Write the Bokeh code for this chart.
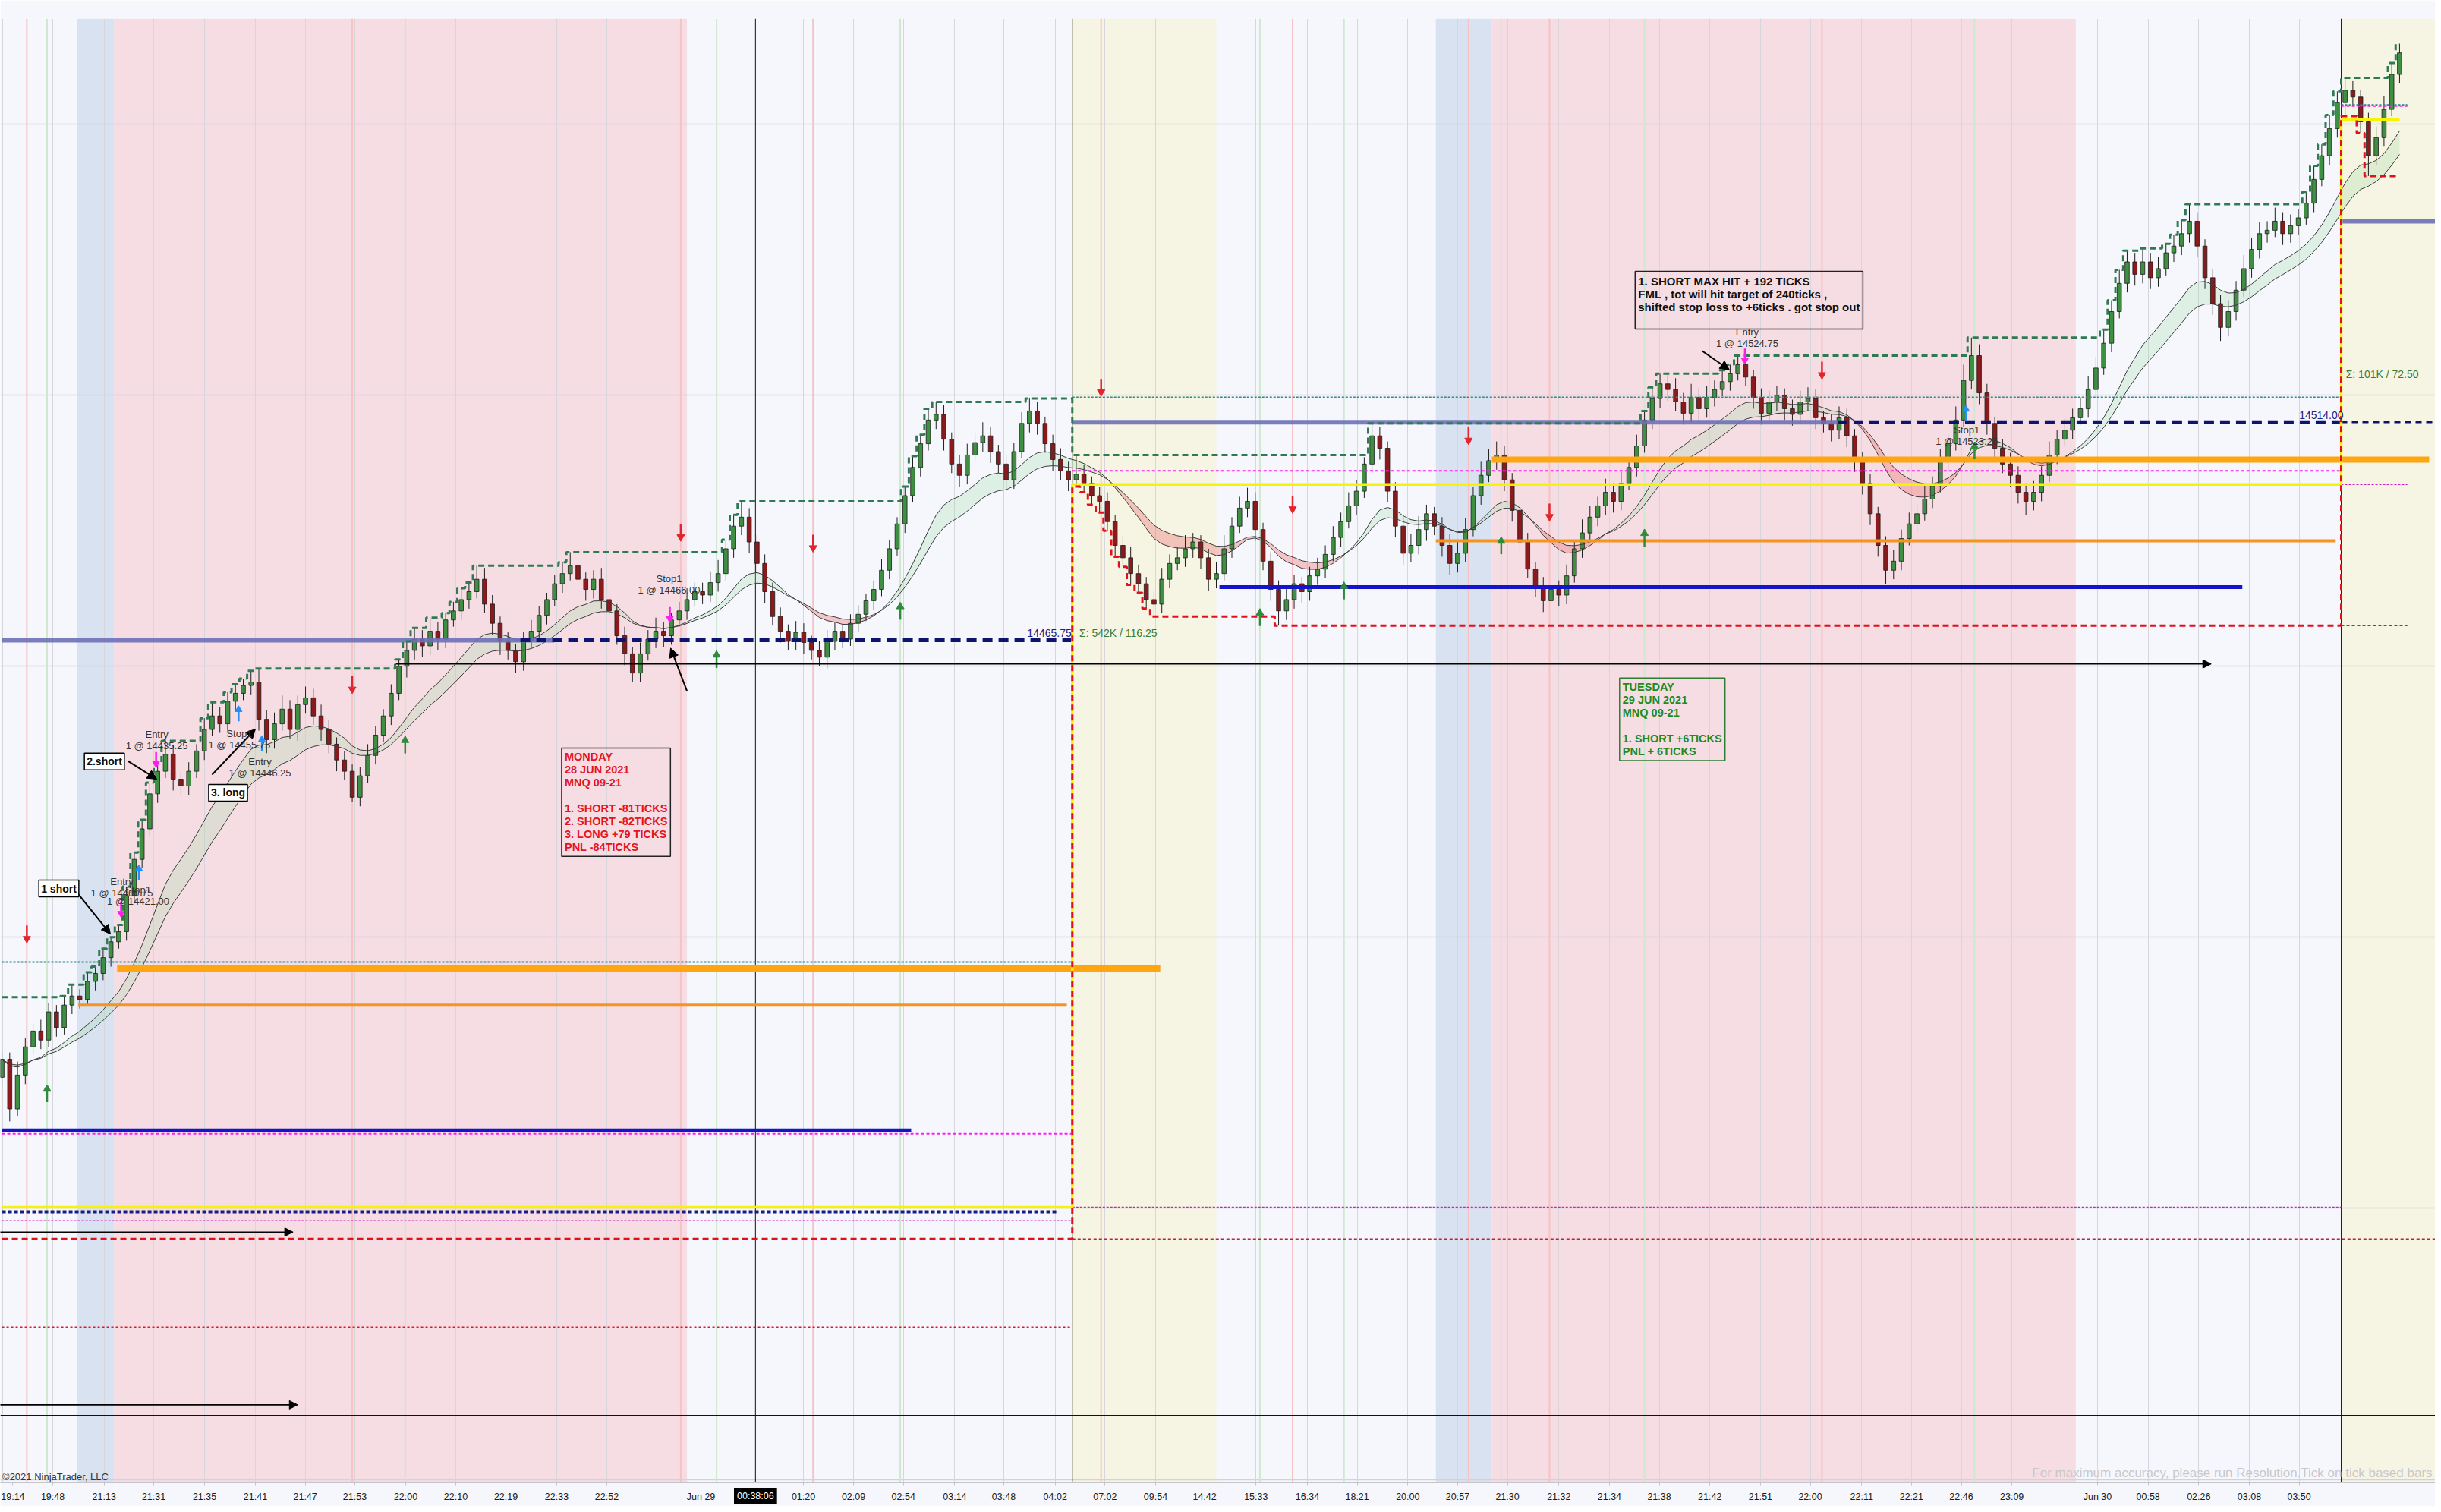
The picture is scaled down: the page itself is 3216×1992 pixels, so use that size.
import numpy as np
import pandas as pd
from bokeh.plotting import figure
from bokeh.models import Range1d, FixedTicker, BoxAnnotation, Span, Label, Arrow, NormalHead
from bokeh.embed import file_html
from bokeh.resources import INLINE

FONT = "Liberation Sans"

# ---------------- price bars (MNQ 09-21), one bar per ~3 chart bars ----------------
first_open = 14369.0
closes = [
 14373.0, 14362.0, 14369.5, 14375.75, 14379.25, 14377.25, 14383.5, 14380.0, 14385.0, 14387.0,
 14386.25, 14390.25, 14392.0, 14395.5, 14399.0, 14401.25, 14409.25, 14417.25, 14424.0, 14431.75,
 14436.75, 14440.5, 14435.0, 14433.5, 14436.75, 14441.25, 14446.0, 14449.0, 14447.25, 14452.25,
 14454.0, 14455.75, 14456.5, 14448.25, 14443.75, 14447.25, 14450.5, 14446.0, 14451.5, 14453.0,
 14449.0, 14446.0, 14442.75, 14439.25, 14436.75, 14431.0, 14435.75, 14440.25, 14444.75, 14449.0,
 14454.0, 14460.0, 14463.5, 14466.0, 14464.5, 14467.75, 14466.0, 14470.25, 14472.25, 14474.75,
 14476.5, 14479.25, 14473.75, 14469.5, 14465.5, 14463.5, 14461.0, 14465.5, 14467.75, 14471.25,
 14474.75, 14478.25, 14480.5, 14482.25, 14479.25, 14477.0, 14479.25, 14474.75, 14472.25, 14466.75,
 14462.75, 14458.5, 14462.75, 14466.0, 14467.75, 14466.75, 14470.25, 14472.25, 14474.75, 14476.5,
 14475.75, 14478.5, 14480.5, 14486.0, 14491.0, 14493.0, 14487.5, 14482.75, 14476.5, 14471.0,
 14467.75, 14465.5, 14467.5, 14465.25, 14463.5, 14462.0, 14465.5, 14467.75, 14466.0, 14469.5,
 14471.5, 14474.5, 14477.0, 14481.25, 14486.0, 14491.5, 14497.75, 14504.0, 14509.25, 14514.5,
 14515.75, 14510.25, 14504.75, 14502.25, 14506.75, 14509.5, 14511.0, 14507.5, 14504.75, 14501.25,
 14507.5, 14513.75, 14516.5, 14513.75, 14509.25, 14505.75, 14503.25, 14501.25, 14502.5, 14500.5,
 14497.75, 14496.5, 14492.0, 14486.75, 14484.0, 14480.5, 14478.25, 14474.75, 14473.75, 14479.25,
 14482.75, 14484.0, 14486.0, 14487.5, 14484.0, 14479.25, 14480.5, 14486.0, 14491.0, 14495.0,
 14496.5, 14490.25, 14483.25, 14477.0, 14472.25, 14474.75, 14478.25, 14476.5, 14480.0, 14481.5,
 14484.75, 14488.5, 14492.0, 14495.5, 14498.75, 14504.75, 14511.0, 14508.25, 14498.75, 14491.0,
 14485.0, 14486.75, 14490.25, 14493.75, 14491.0, 14486.75, 14482.75, 14485.0, 14490.25, 14497.75,
 14502.25, 14505.5, 14506.75, 14501.25, 14494.5, 14487.5, 14481.5, 14477.75, 14474.5, 14477.0,
 14475.75, 14480.0, 14486.0, 14489.5, 14493.0, 14495.5, 14498.5, 14496.5, 14500.5, 14504.0,
 14508.75, 14514.5, 14519.25, 14522.5, 14521.25, 14518.5, 14516.0, 14519.5, 14517.0, 14519.5,
 14521.25, 14523.0, 14524.75, 14526.75, 14524.0, 14519.5, 14516.0, 14518.5, 14520.0, 14517.0,
 14515.75, 14518.5, 14519.25, 14515.0, 14513.75, 14512.25, 14515.0, 14511.0, 14505.5, 14500.5,
 14493.75, 14486.75, 14481.25, 14483.25, 14488.25, 14491.5, 14493.75, 14497.0, 14500.0, 14505.5,
 14509.25, 14514.5, 14523.25, 14528.75, 14520.5, 14513.75, 14508.25, 14504.75, 14502.25, 14498.5,
 14496.5, 14498.5, 14502.25, 14506.75, 14510.25, 14512.25, 14515.0, 14517.0, 14521.25, 14526.0,
 14531.5, 14538.5, 14544.75, 14549.5, 14546.75, 14549.5, 14546.0, 14548.0, 14551.5, 14553.0,
 14555.75, 14558.5, 14553.0, 14546.0, 14540.25, 14535.0, 14538.5, 14543.25, 14548.0, 14552.25,
 14555.75, 14556.5, 14558.5, 14555.75, 14557.5, 14559.25, 14562.5, 14567.75, 14573.0, 14579.0,
 14584.75, 14587.5, 14586.0, 14580.5, 14573.0, 14577.0, 14583.25, 14591.0, 14595.75,
]
wick_up = [
 2, 1.5, 3, 2, 1.5, 2.5, 2, 1.5, 2, 2.5,
 1.5, 2, 1.5, 2, 1, 1.5, 2, 1.5, 2, 2.5,
 2, 3, 2, 1.5, 2, 1.5, 2.5, 3, 2, 2,
 2, 1.5, 2.5, 3, 2, 2.5, 3, 2, 2, 2.5,
 2, 2.5, 2, 1.5, 2, 1.5, 2, 2.5, 2, 1.5,
 2, 1.5, 2, 2.5, 2, 3, 2, 1.5, 2, 2.5,
 2, 3, 2.5, 2, 1.5, 2, 1.5, 2, 2.5, 2,
 1.5, 2, 2.5, 3, 2, 1.5, 2, 2.5, 2, 1.5,
 2, 1.5, 2.5, 2, 3, 2, 1.5, 2, 2.5, 2,
 2, 2.5, 3, 2, 2.5, 3.5, 2, 1.5, 2, 2,
 2, 1.5, 2.5, 2, 1.5, 2, 2.5, 2, 1.5, 2,
 2, 1.5, 2, 2.5, 2, 1.5, 2, 2.5, 2, 2.5,
 2.75, 2, 1.5, 2, 2.5, 2, 3, 2, 1.5, 2,
 2, 2.5, 2.75, 2, 1.5, 2, 2.5, 2, 4.25, 2,
 1.5, 2, 2, 1.5, 2, 2.5, 2, 1.5, 2, 2.5,
 2, 2.5, 3, 2, 1.5, 2, 2.5, 3, 2, 2.5,
 3, 2, 1.5, 2, 2, 2.5, 2, 1.5, 2, 2.5,
 2, 2.5, 2, 3, 2.5, 1.5, 2.75, 2, 1.5, 2,
 2, 2.5, 3, 2, 1.5, 2, 2.5, 3, 2.5, 2,
 3, 2.5, 3, 2, 1.5, 2, 2, 1.5, 2, 2.5,
 2, 2.5, 2, 3, 2.5, 2, 3, 2, 2.5, 2,
 2.5, 2, 2.5, 2.25, 2, 2.5, 2, 3, 2, 2.5,
 2, 2.5, 2, 2, 2, 1.5, 2, 2.5, 2, 1.5,
 2, 2.5, 2.5, 2, 1.5, 2, 2.5, 2, 1.5, 2,
 2, 1.5, 2, 2.5, 2, 2.5, 2, 3, 2, 2.5,
 2, 3, 3.5, 4, 2.5, 2, 1.5, 2, 2.5, 2,
 2, 2.5, 2, 3, 2, 2.5, 2, 2.5, 3, 2.5,
 3, 2.5, 3, 2.5, 2, 3, 2, 2.5, 2, 2.5,
 3, 3.75, 2, 1.5, 2, 2, 2.5, 2, 3, 2.5,
 2.5, 2, 3, 2, 2.5, 2, 2.5, 3, 2.5, 3,
 2.5, 2.75, 2, 1.5, 2, 2.5, 3, 2.5, 2,
]
wick_dn = [
 2, 2.75, 1.5, 2, 1.5, 2, 1.5, 2, 1.5, 2,
 2, 1.5, 2, 1.5, 2, 1.5, 2, 1.5, 2, 1.5,
 2, 1.5, 2.5, 2, 2, 1.5, 2, 1.5, 2, 1.5,
 2, 1.5, 2, 2.5, 3, 2, 1.5, 2, 2.5, 2,
 2, 2.5, 2, 2.5, 2, 1, 2, 1.5, 2, 1.5,
 2, 1.5, 2.5, 2, 2.5, 2, 2.5, 2, 1.5, 2,
 2, 1.5, 2, 2.5, 3, 2, 2.5, 2, 1.5, 2,
 2, 1.5, 2, 1.5, 2, 2.5, 2, 2, 2.5, 2,
 2.5, 2, 2, 1.5, 2, 2.5, 2, 1.5, 2, 1.5,
 2, 1.5, 2, 1.5, 2, 2, 2.5, 2, 2.5, 2,
 2.5, 2, 2, 2.5, 2, 2, 2.5, 2, 2, 1.5,
 2, 1.5, 2, 1.5, 2, 1.5, 2, 1.5, 2, 1.5,
 2, 2.5, 2, 2.5, 2, 1.5, 2, 2.5, 2, 2.5,
 2, 1.5, 2, 2.5, 2, 2.5, 2, 2.5, 1.5, 2,
 2, 2.5, 2, 2.5, 2, 2.5, 2, 2, 2.75, 2,
 2, 1.5, 2, 2, 2.5, 2.5, 2, 1.5, 2, 1.5,
 2, 2.5, 2, 2.5, 3.25, 2, 2, 2.5, 2, 2,
 2, 1.5, 2, 1.5, 2, 1.5, 2, 2.5, 2.5, 2.5,
 2.5, 2, 2, 2.5, 2, 2.5, 2.5, 2, 2, 1.5,
 2, 1.5, 2, 2.5, 2.5, 2.5, 2, 2.5, 2.5, 2,
 2.5, 2, 1.5, 2, 1.5, 2, 2, 2.5, 2, 1.5,
 2, 1.5, 2, 2, 2.5, 2, 2.5, 2, 2.5, 2,
 2, 1.5, 2, 1.5, 2, 2.5, 2.5, 2, 2, 2.5,
 2.5, 2, 2, 2.5, 2, 2.5, 2, 2.5, 2.5, 2.5,
 2.5, 2.5, 3, 2, 2, 1.5, 2, 1.5, 2, 1.5,
 2, 1.5, 1.5, 2, 2.5, 2.5, 2.5, 2, 2.5, 2.5,
 3, 2, 2, 1.5, 2, 1.5, 2, 1.5, 2, 1.5,
 1.5, 2, 1.5, 2, 2.5, 2, 2.5, 2, 1.5, 2,
 2, 2, 2.5, 2.5, 2.5, 3, 2, 2, 1.5, 2,
 2, 2, 1.5, 2.5, 2, 2, 1.5, 2, 1.5, 2,
 2, 3, 2, 2.5, 4.5, 2, 2, 1.5, 2,
]

# ---------------- sessions ----------------
session_starts = [0, 138, 301]
session_open = [14340.25, 14500.25, 14581.0]
carry_session_high = 14386.75
carry_session_low = 14333.25

band_starts = [9.6, 14.4, 137.5, 184.2, 191.4, 300.5]
band_ends = [14.4, 88.0, 156.0, 191.4, 266.4, 313.6]
band_kinds = ["blue", "pink", "yellow", "blue", "pink", "yellow"]

# ---------------- time axis ----------------
tick_bars = [1.4, 6.53, 13.13, 19.5, 26.03, 32.56, 38.96, 45.33, 51.87, 58.3, 64.74, 71.27, 77.7,
             89.8, 102.96, 109.4, 115.8, 122.4, 128.7, 135.3, 141.7, 148.2, 154.5, 161.1, 167.7,
             174.1, 180.6, 187.0, 193.4, 200.0, 206.5, 212.9, 219.4, 225.9, 232.3, 238.9, 245.3,
             251.7, 258.2, 269.2, 275.7, 282.2, 288.7, 295.1]
tick_labels = ["19:14", "19:48", "21:13", "21:31", "21:35", "21:41", "21:47", "21:53", "22:00", "22:10",
               "22:19", "22:33", "22:52", "Jun 29", "01:20", "02:09", "02:54", "03:14", "03:48",
               "04:02", "07:02", "09:54", "14:42", "15:33", "16:34", "18:21", "20:00", "20:57", "21:30",
               "21:32", "21:34", "21:38", "21:42", "21:51", "22:00", "22:11", "22:21", "22:46", "23:09",
               "Jun 30", "00:58", "02:26", "03:08", "03:50"]
grid_bars = [0.09, 6.53, 13.13, 19.5, 26.03, 32.56, 38.96, 45.33, 51.87, 58.3, 64.74, 71.27, 77.7,
             84.1, 89.8, 102.96, 109.4, 115.8, 122.4, 128.7, 135.3, 141.7, 148.2, 154.5, 161.1, 167.7,
             174.1, 180.6, 187.0, 193.4, 200.0, 206.5, 212.9, 219.4, 225.9, 232.3, 238.9, 245.3,
             251.7, 258.2, 269.2, 275.7, 282.2, 288.7, 295.1]
price_grid = [14280, 14340, 14400, 14460, 14520, 14580]
crosshair_bar = 96.8
crosshair_price = 14294.2
crosshair_label = "00:38:06"

# ---------------- horizontal levels ----------------
lvl_kind = ["teal", "teal", "teal", "magenta_dot", "magenta_dot", "magenta_dot",
            "magenta_prev", "magenta_prev", "magenta_prev", "orange_thick", "orange_thick",
            "orange_mid", "orange_mid", "blue", "blue", "slate", "navy_dash", "slate", "navy_dash",
            "navy_thin", "slate", "navy_dot", "red_dot", "darkred_dash", "darkred_dash"]
lvl_price = [14394.5, 14519.5, 14584.25, 14356.5, 14503.25, 14584.0,
             14337.25, 14340.25, 14500.25, 14393.1, 14505.75,
             14385.0, 14487.75, 14357.25, 14477.5, 14465.75, 14465.75, 14514.0, 14514.0,
             14514.0, 14558.5, 14339.25, 14313.75, 14333.25, 14469.0]
lvl_from = [0, 137.5, 300.5, 0, 137.5, 300.5, 0, 137.5, 300.5, 14.8, 191.4,
            9.8, 184.2, 0, 156.4, 0, 66.6, 137.5, 235.8, 300.5, 300.5, 0, 0, 137.5, 300.5]
lvl_to = [137.5, 300.5, 309, 137.5, 300.5, 309, 137.5, 300.5, 309, 148.8, 311.8,
          136.8, 299.8, 116.8, 287.8, 71.0, 137.5, 235.8, 300.5, 313.4, 313.4, 135.6, 137.5, 313.4, 309]

ray_price = [14460.5, 14334.75, 14296.5]
ray_from = [50.6, -1, -1]
ray_to = [283.8, 37.4, 38.0]

# ---------------- signals & executions ----------------
sell_bars = [3.2, 45.0, 87.2, 104.2, 141.2, 165.8, 188.4, 198.8, 233.8]
sell_prices = [14400.6, 14455.8, 14489.5, 14487.1, 14521.6, 14495.7, 14510.9, 14494.0, 14525.4]
buy_bars = [5.8, 51.8, 91.8, 115.4, 161.6, 172.4, 192.6, 211.0, 253.4]
buy_prices = [14365.5, 14442.7, 14461.6, 14472.3, 14470.9, 14476.8, 14486.8, 14488.5, 14507.8]
exec_sell_bars = [15.3, 19.8, 85.8, 223.9]
exec_sell_prices = [14406.1, 14439.2, 14471.3, 14528.5]
exec_buy_bars = [17.6, 30.4, 33.4, 252.3]
exec_buy_prices = [14414.4, 14449.6, 14443.0, 14516.1]

trade_texts = ["Entry\n1 @ 14400.75", "Stop1\n1 @ 14421.00", "Entry\n1 @ 14435.25", "Stop1\n1 @ 14455.75",
               "Entry\n1 @ 14446.25", "Stop1\n1 @ 14466.00", "Entry\n1 @ 14524.75", "Stop1\n1 @ 14523.25"]
trade_bars = [15.4, 17.5, 19.9, 30.5, 33.15, 85.7, 224.2, 252.4]
trade_label_prices = [14413.5, 14411.8, 14446.1, 14446.3, 14440.2, 14480.7, 14535.3, 14513.5]

note_texts = ["1 short", "2.short", "3. long"]
note_bars = [7.31, 13.16, 29.05]
note_prices = [14410.8, 14438.9, 14432.0]

pointer_x0 = [9.84, 16.18, 27.0, 88.0, 218.4]
pointer_y0 = [14409.5, 14439.0, 14436.0, 14454.5, 14529.8]
pointer_x1 = [13.94, 19.89, 32.56, 85.9, 221.9]
pointer_y1 = [14400.7, 14435.0, 14446.1, 14464.0, 14525.6]

monday_text = "MONDAY\n28 JUN 2021\nMNQ 09-21\n \n1. SHORT -81TICKS\n2. SHORT -82TICKS\n3. LONG +79 TICKS\nPNL -84TICKS"
tuesday_text = "TUESDAY\n29 JUN 2021\nMNQ 09-21\n \n1. SHORT +6TICKS\nPNL + 6TICKS"
note_text = "1. SHORT MAX HIT + 192 TICKS\nFML , tot will hit target of 240ticks ,\nshifted stop loss to +6ticks . got stop out\n "

# ---------------- derived series ----------------
n = len(closes)
idx = np.arange(n)
c = np.array(closes, dtype=float)
o = np.empty(n)
o[0] = first_open
o[1:] = c[:-1]
hi = np.maximum(o, c) + np.array(wick_up, dtype=float)
lo = np.minimum(o, c) - np.array(wick_dn, dtype=float)

sid = np.searchsorted(np.array(session_starts), idx, side="right") - 1
run_hi = np.empty(n)
run_lo = np.empty(n)
for i in range(n):
    if i == 0:
        h, l = max(carry_session_high, hi[0]), min(carry_session_low, lo[0])
    elif sid[i] != sid[i - 1]:
        h, l = hi[i], lo[i]
    else:
        h, l = max(h, hi[i]), min(l, lo[i])
    run_hi[i] = h
    run_lo[i] = l
open_line = np.array(session_open)[sid]

fast = pd.Series(c).ewm(span=14, adjust=False).mean().values
slow = pd.Series(c).ewm(span=20, adjust=False).mean().values
above = fast >= slow


def runs(mask):
    out, start = [], None
    for i, m in enumerate(mask):
        if m and start is None:
            start = i
        if not m and start is not None:
            out.append((start, i))
            start = None
    if start is not None:
        out.append((start, len(mask)))
    return out

# ---------------- figure ----------------
BG = "#f6f7fc"
TOP_PAD = 24
PX_PER_POINT = 5.952
y_top = 14607.38 - TOP_PAD / PX_PER_POINT
p = figure(width=3208, height=1984, x_range=Range1d(-0.2, 312.59), y_range=Range1d(14279.26, y_top),
           output_backend="svg", toolbar_location=None, y_axis_location=None,
           min_border_left=0, min_border_right=0, min_border_top=TOP_PAD, min_border_bottom=31)
p.background_fill_color = BG
p.border_fill_color = BG
p.outline_line_color = None

band_colors = {"blue": "#d9e2f1", "pink": "#f6dde3", "yellow": "#f6f4e2"}
for s, e, k in zip(band_starts, band_ends, band_kinds):
    p.add_layout(BoxAnnotation(left=s, right=e, fill_color=band_colors[k], fill_alpha=1.0,
                               line_alpha=0, level="image"))

p.xaxis.ticker = FixedTicker(ticks=tick_bars)
p.xaxis.major_label_overrides = {t: l for t, l in zip(tick_bars, tick_labels)}
p.xaxis.major_label_text_font = FONT
p.xaxis.major_label_text_font_size = "12.5px"
p.xaxis.major_label_text_color = "#1a1a1a"
p.xaxis.major_label_standoff = 7
p.xaxis.axis_line_color = "#c4c4ca"
p.xaxis.major_tick_line_color = "#c4c4ca"
p.xaxis.major_tick_in = 0
p.xaxis.major_tick_out = 4
p.xaxis.minor_tick_line_color = None
p.xgrid.ticker = FixedTicker(ticks=grid_bars)
p.xgrid.grid_line_color = "#d6d6dc"
p.ygrid.ticker = FixedTicker(ticks=price_grid)
p.ygrid.grid_line_color = "#d2d2d8"
p.ygrid.grid_line_width = 1.5

# signal lines, session separators, crosshair
for b in sell_bars:
    p.add_layout(Span(location=b, dimension="height", line_color="#f6c2c4", line_width=2, level="underlay"))
for b in buy_bars:
    p.add_layout(Span(location=b, dimension="height", line_color="#cfe8cf", line_width=2, level="underlay"))
for s in session_starts[1:]:
    p.add_layout(Span(location=s - 0.5, dimension="height", line_color="#222222", line_width=1, level="underlay"))
p.add_layout(Span(location=crosshair_bar, dimension="height", line_color="#111111", line_width=1, level="underlay"))
p.add_layout(Span(location=crosshair_price, dimension="width", line_color="#111111", line_width=1.2, level="underlay"))

# moving-average band (separate patch per run so nothing joins across gaps)
for a, b in runs(above):
    s, e = max(a - 1, 0), min(b + 1, n)
    p.varea(x=idx[s:e], y1=slow[s:e], y2=fast[s:e], fill_color="#a0dcaa", fill_alpha=0.28)
for a, b in runs(~above):
    s, e = max(a - 1, 0), min(b + 1, n)
    p.varea(x=idx[s:e], y1=slow[s:e], y2=fast[s:e], fill_color="#ec7775", fill_alpha=0.38)

# candles
inc = c >= o
dec = ~inc
p.segment(idx, hi, idx, lo, line_color="#1e1e1e", line_width=1)
p.vbar(x=idx[inc], width=0.55, top=c[inc], bottom=o[inc], fill_color="#3f8f42", line_color="#1a1a1a", line_width=0.8)
p.vbar(x=idx[dec], width=0.55, top=o[dec], bottom=c[dec], fill_color="#8b1a1c", line_color="#1a1a1a", line_width=0.8)

p.line(idx, fast, line_color="#3c3c3c", line_width=1)
p.line(idx, slow, line_color="#3c3c3c", line_width=1)

# levels
lvl_style = {
    "teal": dict(line_color="#2b8a8a", line_width=2, line_dash="3 2"),
    "magenta_dot": dict(line_color="#ff1cf0", line_width=2, line_dash="4 3"),
    "magenta_prev": dict(line_color="#d21cc8", line_width=1.5, line_dash="3 2"),
    "orange_thick": dict(line_color="#ffa510", line_width=8),
    "orange_mid": dict(line_color="#f59421", line_width=4),
    "blue": dict(line_color="#1414cc", line_width=5),
    "slate": dict(line_color="#6d70b6", line_width=6, line_alpha=0.9),
    "navy_dash": dict(line_color="#0c1470", line_width=5, line_dash="13 8"),
    "navy_thin": dict(line_color="#0c1470", line_width=2.5, line_dash="8 6"),
    "navy_dot": dict(line_color="#1b1b86", line_width=4, line_dash="5 3"),
    "red_dot": dict(line_color="#e0142a", line_width=1.5, line_dash="3 3"),
    "darkred_dash": dict(line_color="#b3263a", line_width=1.5, line_dash="4 3"),
}
kinds = np.array(lvl_kind)
lp, lf, lt = np.array(lvl_price), np.array(lvl_from), np.array(lvl_to)
for k, st in lvl_style.items():
    m = kinds == k
    if m.any():
        p.segment(lf[m], lp[m], lt[m], lp[m], **st)

p.step(idx, open_line, mode="center", line_color="#f7f20a", line_width=3.5)
p.step(idx, run_lo, mode="center", line_color="#e3101c", line_width=3, line_dash="8 5")
p.step(idx, run_hi, mode="center", line_color="#2f7a52", line_width=3, line_dash="8 5")

# black drawn rays
for yv, x0, x1 in zip(ray_price, ray_from, ray_to):
    p.add_layout(Arrow(end=NormalHead(size=11, fill_color="black", line_color="black"),
                       x_start=x0, y_start=yv, x_end=x1, y_end=yv, line_color="black", line_width=1.6))

# signal arrows
sb, sp_ = np.array(sell_bars), np.array(sell_prices)
p.segment(sb, sp_ + 2.0, sb, sp_ - 0.4, line_color="#e3242b", line_width=2.5)
p.scatter(sb, sp_ - 0.9, marker="inverted_triangle", size=10, fill_color="#e3242b", line_color="#e3242b")
bb, bp = np.array(buy_bars), np.array(buy_prices)
p.segment(bb, bp - 2.0, bb, bp + 0.4, line_color="#2e8b3a", line_width=2.5)
p.scatter(bb, bp + 0.9, marker="triangle", size=10, fill_color="#2e8b3a", line_color="#2e8b3a")
eb, ep = np.array(exec_sell_bars), np.array(exec_sell_prices)
p.segment(eb, ep + 1.8, eb, ep - 0.3, line_color="#ff1cf0", line_width=2.5)
p.scatter(eb, ep - 0.8, marker="inverted_triangle", size=9, fill_color="#ff1cf0", line_color="#ff1cf0")
xb, xp = np.array(exec_buy_bars), np.array(exec_buy_prices)
p.segment(xb, xp - 1.8, xb, xp + 0.3, line_color="#1e90ff", line_width=2.5)
p.scatter(xb, xp + 0.8, marker="triangle", size=9, fill_color="#1e90ff", line_color="#1e90ff")

# pointers from notes
for x0, y0, x1, y1 in zip(pointer_x0, pointer_y0, pointer_x1, pointer_y1):
    p.add_layout(Arrow(end=NormalHead(size=12, fill_color="black", line_color="black"),
                       x_start=x0, y_start=y0, x_end=x1, y_end=y1, line_color="black", line_width=2))

# trade labels
for t, b, pr in zip(trade_texts, trade_bars, trade_label_prices):
    p.add_layout(Label(x=b, y=pr, text=t, text_font=FONT, text_font_size="13px", text_color="#333333",
                       text_align="center", text_baseline="top", text_line_height=1.0))

for t, b, pr in zip(note_texts, note_bars, note_prices):
    p.add_layout(Label(x=b, y=pr, text=t, text_font=FONT, text_font_size="14px", text_font_style="bold",
                       text_color="#111111", text_align="center", text_baseline="middle",
                       background_fill_color="white", border_line_color="black", border_line_width=1.5,
                       padding=3))

p.add_layout(Label(x=71.9, y=14441.9, text=monday_text, text_font=FONT, text_font_size="14.5px",
                   text_font_style="bold", text_color="#e6141e", text_align="left", text_baseline="top",
                   text_line_height=1.06, border_line_color="#222222", border_line_width=1.5, padding=4))
p.add_layout(Label(x=207.8, y=14457.4, text=tuesday_text, text_font=FONT, text_font_size="14.5px",
                   text_font_style="bold", text_color="#1f8a22", text_align="left", text_baseline="top",
                   text_line_height=1.06, border_line_color="#2e7d32", border_line_width=1.5, padding=4))
p.add_layout(Label(x=209.8, y=14547.4, text=note_text, text_font=FONT, text_font_size="15px",
                   text_font_style="bold", text_color="#111111", text_align="left", text_baseline="top",
                   text_line_height=1.0, border_line_color="#222222", border_line_width=1.5, padding=4))

# price / volume tags
p.add_layout(Label(x=137.4, y=14467.3, text="14465.75", text_font=FONT, text_font_size="14px",
                   text_color="#1c2180", text_align="right", text_baseline="middle"))
p.add_layout(Label(x=138.4, y=14467.3, text="Σ: 542K / 116.25", text_font=FONT, text_font_size="14px",
                   text_color="#3a7d3a", text_align="left", text_baseline="middle"))
p.add_layout(Label(x=300.8, y=14515.6, text="14514.00", text_font=FONT, text_font_size="14px",
                   text_color="#1c2180", text_align="right", text_baseline="middle"))
p.add_layout(Label(x=301.1, y=14524.7, text="Σ: 101K / 72.50", text_font=FONT, text_font_size="14px",
                   text_color="#3a7d3a", text_align="left", text_baseline="middle"))

# footer texts
p.add_layout(Label(x=0.05, y=14280.6, text="©2021 NinjaTrader, LLC", text_font=FONT, text_font_size="13px",
                   text_color="#333333", text_align="left", text_baseline="middle"))
p.add_layout(Label(x=260.8, y=14281.4, text="For maximum accuracy, please run Resolution.Tick on tick based bars",
                   text_font=FONT, text_font_size="17px", text_color="#c8c8cc", text_align="left",
                   text_baseline="middle"))

# crosshair time tag on the time-axis row; held in a side panel so it is not clipped to the frame
p.add_layout(Label(x=crosshair_bar, y=14276.3, text=crosshair_label, text_font=FONT, text_font_size="12.5px",
                   text_color="white", text_align="center", text_baseline="middle",
                   background_fill_color="black", padding=4), "above")

open("out.html", "w").write(file_html(p, INLINE))
